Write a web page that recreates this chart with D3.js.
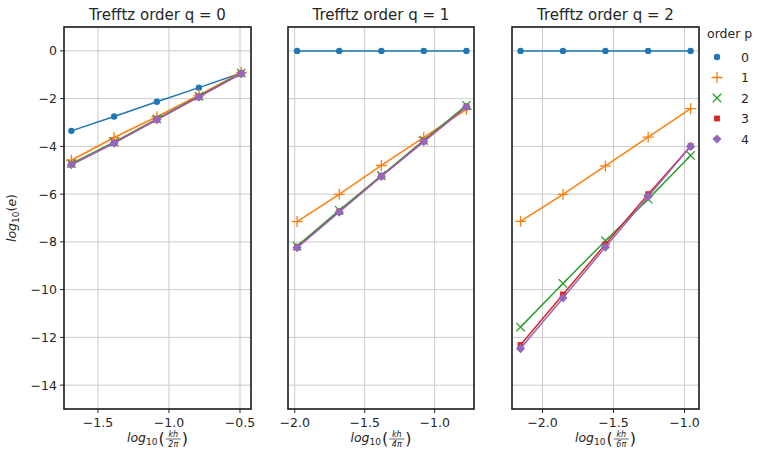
<!DOCTYPE html>
<html><head><meta charset="utf-8">
<script src="https://cdn.jsdelivr.net/npm/d3@7"></script>
<style>body{margin:0;background:#fff}svg{display:block}text{font-family:"DejaVu Sans",sans-serif;fill:#262626}</style>
</head><body><svg id="c" width="757" height="453"></svg>
<script>
// ---- data ----
const orders = [0, 1, 2, 3, 4];
const colors = ["#1f77b4", "#ff7f0e", "#2ca02c", "#d62728", "#9467bd"];
const titles = ["Trefftz order q = 0", "Trefftz order q = 1", "Trefftz order q = 2"];
const denoms = ["2π", "4π", "6π"];
const xQ0 = [-1.687, -1.386, -1.085, -0.789, -0.491];
const xQ1 = [-1.983, -1.682, -1.381, -1.078, -0.773];
const xQ2 = [-2.155, -1.856, -1.557, -1.256, -0.957];
const q0 = [
  [-3.35, -2.75, -2.13, -1.54, -0.93],
  [-4.58, -3.63, -2.76, -1.85, -0.90],
  [-4.72, -3.82, -2.85, -1.90, -0.93],
  [-4.76, -3.85, -2.88, -1.92, -0.95],
  [-4.77, -3.86, -2.88, -1.93, -0.95]
];
const q1 = [
  [0, 0, 0, 0, 0],
  [-7.15, -6.01, -4.80, -3.62, -2.45],
  [-8.18, -6.68, -5.22, -3.75, -2.28],
  [-8.23, -6.74, -5.25, -3.79, -2.34],
  [-8.24, -6.75, -5.26, -3.80, -2.35]
];
const q2 = [
  [0, 0, 0, 0, 0],
  [-7.14, -6.01, -4.82, -3.61, -2.42],
  [-11.57, -9.74, -7.95, -6.21, -4.38],
  [-12.32, -10.20, -8.10, -6.00, -3.99],
  [-12.47, -10.35, -8.22, -6.10, -4.00]
];
const yTicks = [0, -2, -4, -6, -8, -10, -12, -14];
const xTicks0 = [-1.5, -1.0, -0.5];
const xTicks1 = [-2.0, -1.5, -1.0];
const xTicks2 = [-2.0, -1.5, -1.0];

const panels = [
  {x: xQ0, y: q0, ticks: xTicks0, dom: [-1.739, -0.4225], left: 64, right: 251},
  {x: xQ1, y: q1, ticks: xTicks1, dom: [-2.048, -0.719], left: 288, right: 474},
  {x: xQ2, y: q2, ticks: xTicks2, dom: [-2.215, -0.898], left: 512, right: 699}
];
const plotTop = 27, plotBottom = 409;
const svg = d3.select("#c");
const yScale = d3.scaleLinear().domain([-15, 1]).range([plotBottom, plotTop]);
const fmt = v => d3.format(".1f")(v).replace("-", "\u2212");
const fmtY = v => String(v).replace("-", "\u2212");

const circleSym = d3.symbol().type(d3.symbolCircle).size(32);
const squareSym = d3.symbol().type(d3.symbolSquare).size(34);
function drawMarker(g, p, cx, cy, color) {
  if (p === 0) {
    g.append("path").attr("d", circleSym()).attr("transform", `translate(${cx},${cy})`).attr("fill", color);
  } else if (p === 1) {
    g.append("path").attr("d", `M${cx-5.5},${cy}H${cx+5.5}M${cx},${cy-5.5}V${cy+5.5}`)
      .attr("stroke", color).attr("stroke-width", 1.3).attr("fill", "none");
  } else if (p === 2) {
    g.append("path").attr("d", `M${cx-4.2},${cy-4.2}L${cx+4.2},${cy+4.2}M${cx-4.2},${cy+4.2}L${cx+4.2},${cy-4.2}`)
      .attr("stroke", color).attr("stroke-width", 1.3).attr("fill", "none");
  } else if (p === 3) {
    g.append("path").attr("d", squareSym()).attr("transform", `translate(${cx},${cy})`).attr("fill", color);
  } else {
    const r = 4.6;
    g.append("path").attr("d", `M${cx},${cy-r}L${cx+r},${cy}L${cx},${cy+r}L${cx-r},${cy}Z`).attr("fill", color);
  }
}

function mathLabel(g, cx, base, denom) {
  const grp = g.append("g");
  let x = 0;
  const add = (txt, size, dy, style) => {
    const t = grp.append("text").attr("x", x).attr("y", dy).attr("font-size", size)
      .attr("font-style", style || "normal").text(txt);
    x += t.node().getComputedTextLength();
    return t;
  };
  add("log", 12.5, 0, "italic");
  add("10", 9, 3, "normal");
  x += 1;
  add("(", 16, 2, "normal");
  const fx = x + 1;
  grp.append("text").attr("x", fx + 7.5).attr("y", -5).attr("font-size", 8)
    .attr("font-style", "italic").attr("text-anchor", "middle").text("kh");
  grp.append("text").attr("x", fx + 7.5).attr("y", 4.5).attr("font-size", 8)
    .attr("font-style", "italic").attr("text-anchor", "middle").text(denom);
  grp.append("line").attr("x1", fx).attr("x2", fx + 15).attr("y1", -3).attr("y2", -3)
    .attr("stroke", "#262626").attr("stroke-width", 0.7);
  x = fx + 16;
  add(")", 16, 2, "normal");
  grp.attr("transform", `translate(${cx - x / 2},${base})`);
}

panels.forEach((P, i) => {
  const g = svg.append("g");
  const xs = d3.scaleLinear().domain(P.dom).range([P.left, P.right]);
  // grid
  g.selectAll(".gx").data(P.ticks).enter().append("line")
    .attr("x1", d => xs(d)).attr("x2", d => xs(d)).attr("y1", plotTop).attr("y2", plotBottom)
    .attr("stroke", "#cbcbcb").attr("stroke-width", 1);
  g.selectAll(".gy").data(yTicks).enter().append("line")
    .attr("x1", P.left).attr("x2", P.right).attr("y1", d => yScale(d)).attr("y2", d => yScale(d))
    .attr("stroke", "#cbcbcb").attr("stroke-width", 1);
  // series
  const clip = "clip" + i;
  svg.append("clipPath").attr("id", clip).append("rect")
    .attr("x", P.left - 6).attr("y", plotTop).attr("width", P.right - P.left + 12).attr("height", plotBottom - plotTop);
  const sg = g.append("g").attr("clip-path", `url(#${clip})`);
  const line = d3.line().x(d => xs(d[0])).y(d => yScale(d[1]));
  orders.forEach(p => {
    const pts = P.x.map((xv, k) => [xv, P.y[p][k]]);
    sg.append("path").attr("d", line(pts)).attr("fill", "none")
      .attr("stroke", colors[p]).attr("stroke-width", 1.5);
    pts.forEach(d => drawMarker(sg, p, xs(d[0]), yScale(d[1]), colors[p]));
  });
  // x ticks
  P.ticks.forEach(t => {
    g.append("line").attr("x1", xs(t)).attr("x2", xs(t)).attr("y1", plotBottom).attr("y2", plotBottom + 4)
      .attr("stroke", "#262626").attr("stroke-width", 1);
    g.append("text").attr("x", xs(t)).attr("y", plotBottom + 18).attr("text-anchor", "middle")
      .attr("font-size", 12.5).text(fmt(t));
  });
  // y ticks (first panel only)
  if (i === 0) {
    yTicks.forEach(t => {
      g.append("line").attr("x1", P.left - 4).attr("x2", P.left).attr("y1", yScale(t)).attr("y2", yScale(t))
        .attr("stroke", "#262626").attr("stroke-width", 1);
      g.append("text").attr("x", P.left - 7).attr("y", yScale(t) + 4.5).attr("text-anchor", "end")
        .attr("font-size", 12.5).text(fmtY(t));
    });
  }
  // frame
  g.append("rect").attr("x", P.left).attr("y", plotTop).attr("width", P.right - P.left)
    .attr("height", plotBottom - plotTop).attr("fill", "none").attr("stroke", "#1a1a1a").attr("stroke-width", 1.6);
  // title
  g.append("text").attr("x", (P.left + P.right) / 2).attr("y", 20).attr("text-anchor", "middle")
    .attr("font-size", 15).text(titles[i]);
  mathLabel(g, (P.left + P.right) / 2, 442, denoms[i]);
});

// y label
const yl = svg.append("text").attr("transform", `translate(16,${(plotTop + plotBottom) / 2}) rotate(-90)`)
  .attr("text-anchor", "middle").attr("font-size", 12.5);
yl.append("tspan").attr("font-style", "italic").text("log");
yl.append("tspan").attr("font-size", 9).attr("dy", 3).text("10");
yl.append("tspan").attr("dy", -3).text("(");
yl.append("tspan").attr("font-style", "italic").text("e");
yl.append("tspan").text(")");

// legend
const lg = svg.append("g");
lg.append("text").attr("x", 707).attr("y", 38).attr("font-size", 12.5).text("order p");
orders.forEach((p, k) => {
  const cy = 57 + k * 20.5;
  drawMarker(lg, p, 717, cy, colors[p]);
  lg.append("text").attr("x", 741).attr("y", cy + 4.5).attr("font-size", 12.5).text(String(p));
});
</script></body></html>
